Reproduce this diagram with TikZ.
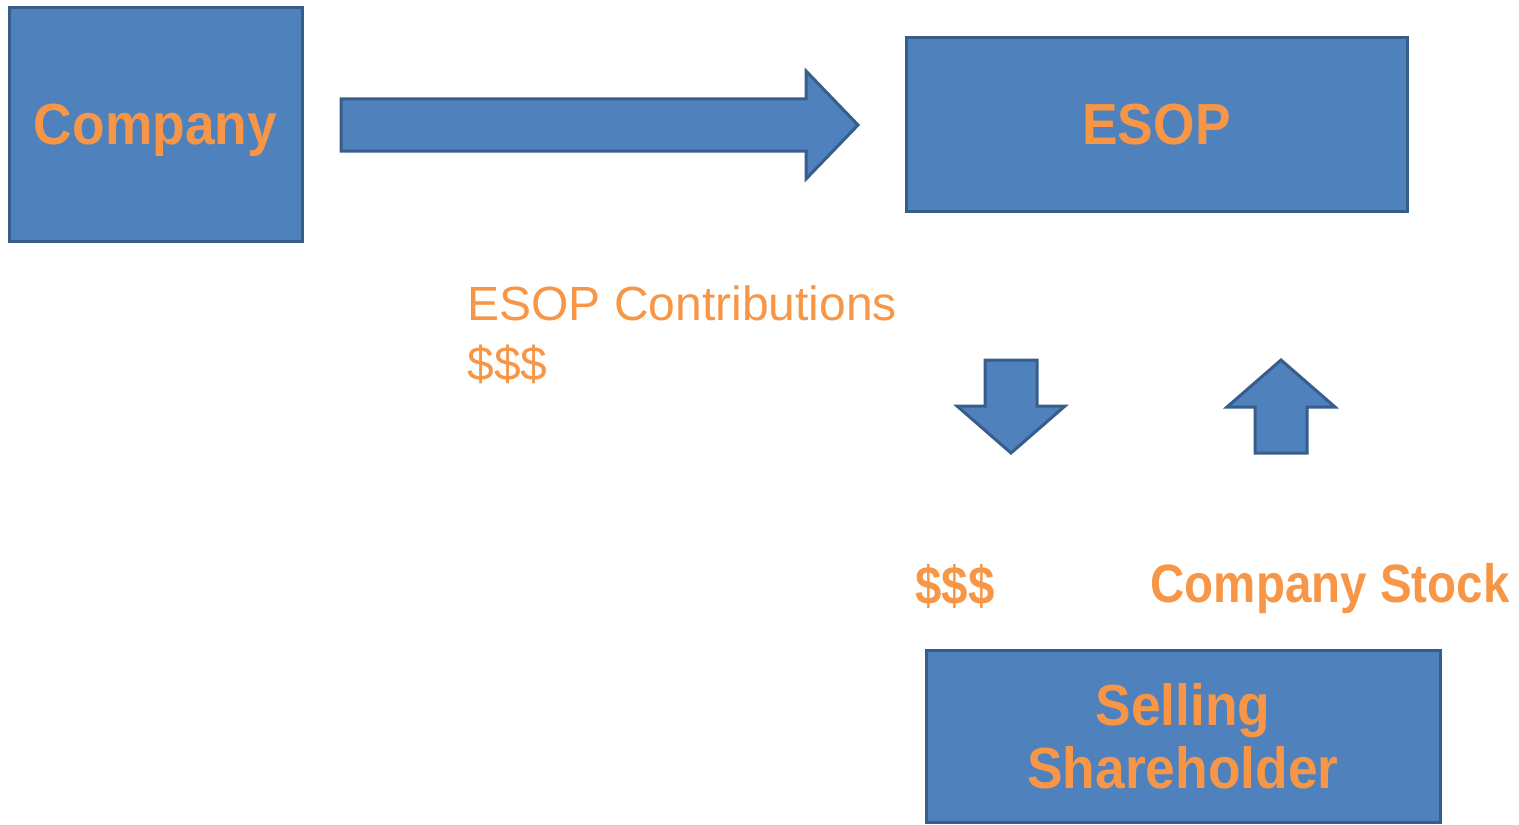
\documentclass[tikz,border=0pt]{standalone}
\usepackage{fontspec}
\setmainfont{Liberation Sans}
\newfontfamily\boxfont{Liberation Sans}[FakeStretch=0.92]
\newfontfamily\labelfont{Liberation Sans}[FakeStretch=0.88]
\usepackage{tikz}
\usetikzlibrary{positioning,calc}
\definecolor{boxfill}{HTML}{4F81BD}
\definecolor{boxline}{HTML}{385D8A}
\definecolor{labelorange}{HTML}{F79646}
\begin{document}
\begin{tikzpicture}[x=0.5pt, y=-0.5pt, line join=miter]
\tikzstyle{party}=[draw=boxline,fill=boxfill,line width=1.5pt,inner sep=0pt,text=labelorange,font=\boxfont\bfseries\fontsize{29}{31.5}\selectfont,align=center]
\tikzstyle{blockarrow}=[draw=boxline,fill=boxfill,line width=1.5pt]
\tikzstyle{flowlabel}=[text=labelorange,inner sep=0pt]
\useasboundingbox (0,0) rectangle (1519,824);
\node[party,minimum width=146.5pt,minimum height=116.5pt,text depth=0pt] (company) at (155.5,124.5) {Company};
\node[party,minimum width=250.5pt,minimum height=86.5pt]  (esop)    at (1156.5,124.5) {ESOP};
\node[party,minimum width=257pt,minimum height=86pt]      (seller)  at (1183,736) {Selling\\Shareholder};
% block arrows
\draw[blockarrow] (341,99) -- (806,99) -- (806,71) -- (858,125) -- (806,179) -- (806,151) -- (341,151) -- cycle;
\draw[blockarrow] (985,360) -- (1037,360) -- (1037,406) -- (1065,406) -- (1011,453) -- (957,406) -- (985,406) -- cycle;
\draw[blockarrow] (1281,360) -- (1335,407) -- (1307,407) -- (1307,453) -- (1255,453) -- (1255,407) -- (1227,407) -- cycle;
% labels
\node[flowlabel,anchor=base west,font=\fontsize{24}{28}\selectfont] (contrib)     at (467,320) {ESOP Contributions};
\node[flowlabel,anchor=base west,font=\fontsize{24}{28}\selectfont] (contribcash) at (467,380) {\$\$\$};
\node[flowlabel,anchor=base west,font=\labelfont\bfseries\fontsize{27}{30}\selectfont] (cash)  at (915,604) {\$\$\$};
\node[flowlabel,anchor=base west,font=\labelfont\bfseries\fontsize{27}{30}\selectfont] (stock) at (1150,602) {Company Stock};
\end{tikzpicture}
\end{document}
